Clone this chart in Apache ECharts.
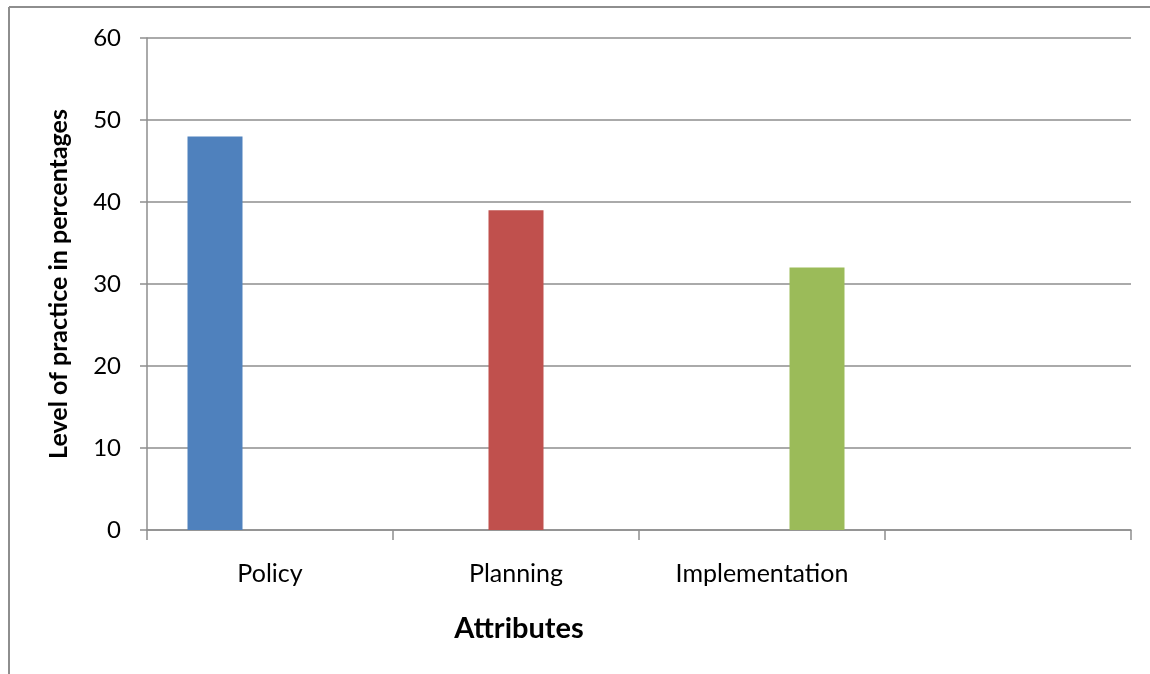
<!DOCTYPE html>
<html>
<head>
<meta charset="utf-8">
<script src="https://cdn.jsdelivr.net/npm/echarts@6/dist/echarts.min.js"></script>
<style>
html,body{margin:0;padding:0;background:#fff;}
#chart{width:1150px;height:674px;}
</style>
</head>
<body>
<div id="chart"></div>
<script>
const categories = ['Policy', 'Planning', 'Implementation', ''];
const policyValues = [48, '-', '-', '-'];
const planningValues = ['-', 39, '-', '-'];
const implementationValues = ['-', '-', 32, '-'];
const yTicks = [0, 10, 20, 30, 40, 50, 60];
const xTitle = 'Attributes';
const yTitle = 'Level of practice in percentages';

const FONT = 'Lato, "Open Sans", sans-serif';
const chart = echarts.init(document.getElementById('chart'), null, {renderer: 'canvas'});
const gray = '#8e8e8e';
chart.setOption({
  animation: false,
  backgroundColor: '#fff',
  grid: {left: 147, right: 19, top: 38, bottom: 144, containLabel: false},
  graphic: [
    {type: 'line', shape: {x1: 9, y1: 7, x2: 1150, y2: 7}, style: {stroke: gray, lineWidth: 2}},
    {type: 'line', shape: {x1: 9, y1: 7, x2: 9, y2: 674}, style: {stroke: gray, lineWidth: 2}},
    {type: 'text', x: 519, y: 629, style: {text: xTitle, fontFamily: FONT, fontSize: 29, fontWeight: 'bold', fill: '#000', textAlign: 'center', textVerticalAlign: 'middle'}}
  ],
  xAxis: {
    type: 'category',
    data: categories,
    axisLine: {lineStyle: {color: gray, width: 1.5}},
    axisTick: {show: true, alignWithLabel: false, length: 10, lineStyle: {color: gray, width: 1.5}},
    axisLabel: {fontFamily: FONT, fontSize: 25, color: '#000', margin: 31, interval: 0}
  },
  yAxis: {
    type: 'value',
    min: yTicks[0],
    max: yTicks[yTicks.length - 1],
    interval: 10,
    name: yTitle,
    nameLocation: 'middle',
    nameGap: 76,
    nameTextStyle: {fontFamily: FONT, fontSize: 25, fontWeight: 'bold', color: '#000'},
    axisLine: {show: true, lineStyle: {color: gray, width: 1.5}},
    axisTick: {show: true, length: 7, lineStyle: {color: gray, width: 1.5}},
    axisLabel: {fontFamily: FONT, fontSize: 24, color: '#000', margin: 26},
    splitLine: {show: true, lineStyle: {color: gray, width: 1.5}}
  },
  series: [
    {name: 'Policy', type: 'bar', data: policyValues, barWidth: 55, barGap: '0%', itemStyle: {color: '#4F81BD'}},
    {name: 'Planning', type: 'bar', data: planningValues, barWidth: 55, barGap: '0%', itemStyle: {color: '#C0504D'}},
    {name: 'Implementation', type: 'bar', data: implementationValues, barWidth: 55, barGap: '0%', itemStyle: {color: '#9BBB59'}}
  ]
});
</script>
</body>
</html>
